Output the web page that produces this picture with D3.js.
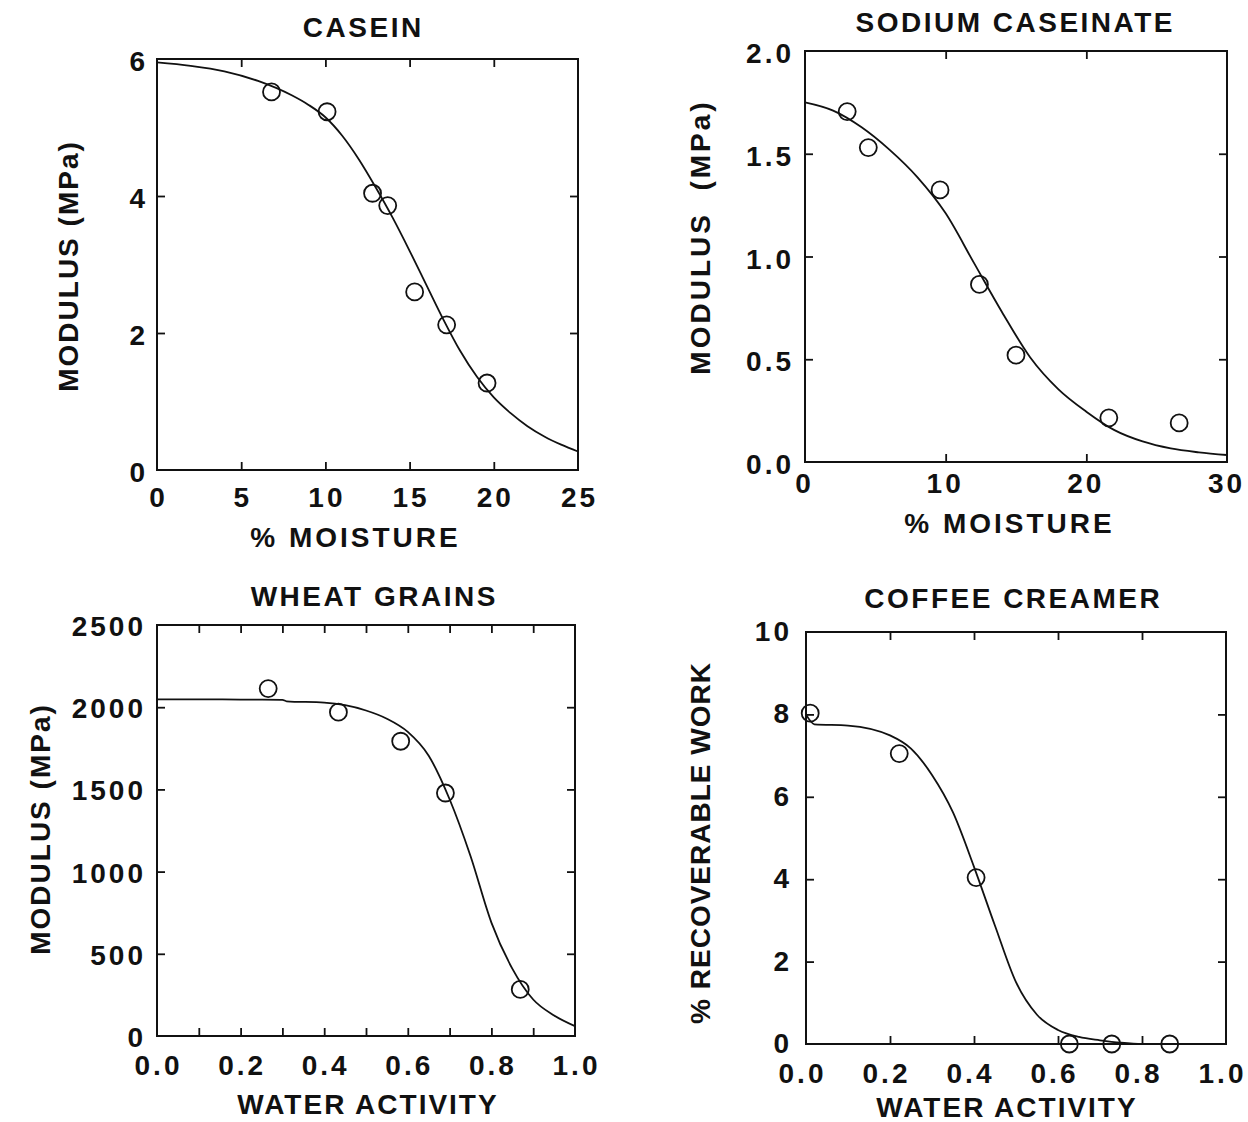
<!DOCTYPE html>
<html>
<head>
<meta charset="utf-8">
<script src="https://cdn.jsdelivr.net/npm/d3@7"></script>
<style>
  html, body { margin: 0; padding: 0; background: #fff; }
  svg { display: block; }
  text { font-family: "Liberation Sans", Arial, Helvetica, sans-serif; font-weight: bold; fill: #111; }
</style>
</head>
<body>
<svg id="chart" width="1248" height="1122"></svg>
<script>
// ---------------- DATA ----------------
// Panel 1: CASEIN
const caseinMoisture = [6.8, 10.1, 12.8, 13.7, 15.3, 17.2, 19.6];
const caseinModulus  = [5.52, 5.23, 4.04, 3.86, 2.6, 2.12, 1.27];
const caseinCurveX = [0, 2, 4, 6, 8, 9, 10, 11, 12, 13, 14, 15, 16, 17, 18, 19, 20, 21, 22, 23, 24, 25];
const caseinCurveY = [5.95, 5.9, 5.82, 5.68, 5.47, 5.33, 5.15, 4.88, 4.53, 4.12, 3.68, 3.2, 2.7, 2.2, 1.74, 1.36, 1.06, 0.83, 0.64, 0.49, 0.37, 0.27];
const caseinXTicks = [0, 5, 10, 15, 20, 25];
const caseinYTicks = [0, 2, 4, 6];

// Panel 2: SODIUM CASEINATE
const sodiumMoisture = [3.0, 4.5, 9.6, 12.4, 15.0, 21.6, 26.6];
const sodiumModulus  = [1.705, 1.53, 1.324, 0.864, 0.52, 0.215, 0.19];
const sodiumCurveX = [0, 2, 4, 6, 8, 10, 12, 14, 16, 18, 20, 22, 24, 26, 28, 30];
const sodiumCurveY = [1.75, 1.71, 1.63, 1.52, 1.385, 1.21, 0.97, 0.73, 0.51, 0.355, 0.245, 0.155, 0.1, 0.066, 0.047, 0.034];
const sodiumXTicks = [0, 10, 20, 30];
const sodiumYTicks = [0.0, 0.5, 1.0, 1.5, 2.0];

// Panel 3: WHEAT GRAINS
const wheatActivity = [0.266, 0.434, 0.583, 0.69, 0.869];
const wheatModulus  = [2113, 1970, 1793, 1478, 283];
const wheatCurveX = [0, 0.1, 0.2, 0.3, 0.31, 0.4, 0.45, 0.5, 0.55, 0.6, 0.65, 0.7, 0.75, 0.8, 0.85, 0.9, 0.95, 1.0];
const wheatCurveY = [2048, 2048, 2046, 2045, 2036, 2028, 2012, 1980, 1930, 1850, 1705, 1440, 1095, 690, 410, 222, 125, 60];
const wheatXTicks = [0.0, 0.2, 0.4, 0.6, 0.8, 1.0];
const wheatXMinor = [0.1, 0.2, 0.3, 0.4, 0.5, 0.6, 0.7, 0.8, 0.9];
const wheatYTicks = [0, 500, 1000, 1500, 2000, 2500];

// Panel 4: COFFEE CREAMER
const creamerActivity = [0.01, 0.222, 0.405, 0.627, 0.728, 0.866];
const creamerWork     = [8.03, 7.05, 4.04, 0.0, 0.0, 0.0];
const creamerCurveX = [0, 0.02, 0.1, 0.2, 0.25, 0.3, 0.35, 0.4, 0.45, 0.5, 0.55, 0.6, 0.65, 0.7, 0.75, 0.8, 0.9, 1.0];
const creamerCurveY = [8.0, 7.76, 7.73, 7.49, 7.17, 6.53, 5.62, 4.3, 2.87, 1.5, 0.71, 0.34, 0.17, 0.09, 0.03, 0.0, 0.0, 0.0];
const creamerXTicks = [0.0, 0.2, 0.4, 0.6, 0.8, 1.0];
const creamerYTicks = [0, 2, 4, 6, 8, 10];

// ---------------- LAYOUT ----------------
const panels = [
  { title: "CASEIN", xLabel: "% MOISTURE", yLabel: "MODULUS (MPa)",
    L: 157, R: 578, T: 59, B: 470, xDom: [0, 25], yDom: [0, 6],
    px: caseinMoisture, py: caseinModulus, cx: caseinCurveX, cy: caseinCurveY,
    xTicks: caseinXTicks, yTicks: caseinYTicks, innerX: [5, 10, 15, 20], innerY: [2, 4],
    xFmt: d3.format("d"), yFmt: d3.format("d"),
    titleX: 362, titleY: 37, xTickY: 507, xTickDx: 0, xLabelX: 354, xLabelY: 547, xLabelLS: 3,
    yLabelX: 68, yLabelY: 266, yLabelLS: 2, yTickX: 145, yTickDy: 12 },
  { title: "SODIUM CASEINATE", xLabel: "% MOISTURE", yLabel: "MODULUS  (MPa)",
    L: 805, R: 1227, T: 51, B: 462, xDom: [0, 30], yDom: [0, 2],
    px: sodiumMoisture, py: sodiumModulus, cx: sodiumCurveX, cy: sodiumCurveY,
    xTicks: sodiumXTicks, yTicks: sodiumYTicks, innerX: [10, 20], innerY: [0.5, 1.0, 1.5],
    xFmt: d3.format("d"), yFmt: d3.format(".1f"),
    titleX: 1014, titleY: 32, xTickY: 493, xTickDx: -2, xLabelX: 1008, xLabelY: 533, xLabelLS: 3,
    yLabelX: 700, yLabelY: 237, yLabelLS: 3, yTickX: 791, yTickDy: 12 },
  { title: "WHEAT GRAINS", xLabel: "WATER ACTIVITY", yLabel: "MODULUS (MPa)",
    L: 157, R: 575, T: 625, B: 1036, xDom: [0, 1], yDom: [0, 2500],
    px: wheatActivity, py: wheatModulus, cx: wheatCurveX, cy: wheatCurveY,
    xTicks: wheatXTicks, yTicks: wheatYTicks, innerX: wheatXMinor, innerY: [500, 1000, 1500, 2000],
    xFmt: d3.format(".1f"), yFmt: d3.format("d"),
    titleX: 373, titleY: 606, xTickY: 1075, xTickDx: 0, xLabelX: 367, xLabelY: 1114, xLabelLS: 2,
    yLabelX: 40, yLabelY: 829, yLabelLS: 2, yTickX: 143, yTickDy: 11 },
  { title: "COFFEE CREAMER", xLabel: "WATER ACTIVITY", yLabel: "% RECOVERABLE WORK",
    L: 806, R: 1226, T: 632, B: 1044, xDom: [0, 1], yDom: [0, 10],
    px: creamerActivity, py: creamerWork, cx: creamerCurveX, cy: creamerCurveY,
    xTicks: creamerXTicks, yTicks: creamerYTicks, innerX: [0.2, 0.4, 0.6, 0.8], innerY: [2, 4, 6, 8],
    xFmt: d3.format(".1f"), yFmt: d3.format("d"),
    titleX: 1012, titleY: 608, xTickY: 1083, xTickDx: -5, xLabelX: 1006, xLabelY: 1117, xLabelLS: 2,
    yLabelX: 700, yLabelY: 843, yLabelLS: 1, yTickX: 789, yTickDy: 9 }
];

const svg = d3.select("#chart");
const FS = 28, TICK = 8, TLS = 3;

panels.forEach(p => {
  const x = d3.scaleLinear().domain(p.xDom).range([p.L, p.R]);
  const y = d3.scaleLinear().domain(p.yDom).range([p.B, p.T]);
  const g = svg.append("g");

  // frame
  g.append("rect").attr("x", p.L).attr("y", p.T)
    .attr("width", p.R - p.L).attr("height", p.B - p.T)
    .attr("fill", "none").attr("stroke", "#111").attr("stroke-width", 2);

  // inward ticks using d3 axes (bottom, top, left, right)
  const mk = (axis, tr) => {
    const a = g.append("g").attr("transform", tr).call(axis);
    a.select(".domain").remove();
    a.selectAll("text").remove();
    a.selectAll("line").attr("stroke", "#111").attr("stroke-width", 1.8);
  };
  mk(d3.axisBottom(x).tickValues(p.innerX).tickSize(-TICK), `translate(0,${p.B})`);
  mk(d3.axisTop(x).tickValues(p.innerX).tickSize(-TICK), `translate(0,${p.T})`);
  mk(d3.axisLeft(y).tickValues(p.innerY).tickSize(-TICK), `translate(${p.L},0)`);
  mk(d3.axisRight(y).tickValues(p.innerY).tickSize(-TICK), `translate(${p.R},0)`);

  // tick labels
  g.selectAll(".xt").data(p.xTicks).enter().append("text")
    .attr("x", d => x(d) + TLS / 2 + p.xTickDx).attr("y", p.xTickY)
    .attr("text-anchor", "middle").attr("font-size", FS).attr("letter-spacing", TLS)
    .text(d => p.xFmt(d));
  g.selectAll(".yt").data(p.yTicks).enter().append("text")
    .attr("x", p.yTickX + TLS).attr("y", d => y(d) + p.yTickDy)
    .attr("text-anchor", "end").attr("font-size", FS).attr("letter-spacing", TLS)
    .text(d => p.yFmt(d));

  // panel title
  g.append("text").attr("x", p.titleX + 1.25).attr("y", p.titleY)
    .attr("text-anchor", "middle").attr("font-size", FS).attr("letter-spacing", 2.5)
    .text(p.title);
  // x axis title
  g.append("text").attr("x", p.xLabelX + p.xLabelLS / 2).attr("y", p.xLabelY)
    .attr("text-anchor", "middle").attr("font-size", FS).attr("letter-spacing", p.xLabelLS)
    .text(p.xLabel);
  // y axis title
  g.append("text")
    .attr("transform", `translate(${p.yLabelX},${p.yLabelY}) rotate(-90)`)
    .attr("text-anchor", "middle").attr("dominant-baseline", "central")
    .attr("font-size", FS).attr("letter-spacing", p.yLabelLS)
    .style("white-space", "pre")
    .text(p.yLabel);

  // fitted curve
  const curvePts = p.cx.map((v, i) => [v, p.cy[i]]);
  g.append("path").datum(curvePts)
    .attr("d", d3.line().x(d => x(d[0])).y(d => y(d[1])).curve(d3.curveMonotoneX))
    .attr("fill", "none").attr("stroke", "#111").attr("stroke-width", 1.8);

  // data points
  const pts = p.px.map((v, i) => [v, p.py[i]]);
  g.selectAll(".pt").data(pts).enter().append("circle")
    .attr("cx", d => x(d[0])).attr("cy", d => y(d[1])).attr("r", 8.5)
    .attr("fill", "none").attr("stroke", "#111").attr("stroke-width", 1.8);
});
</script>
</body>
</html>
